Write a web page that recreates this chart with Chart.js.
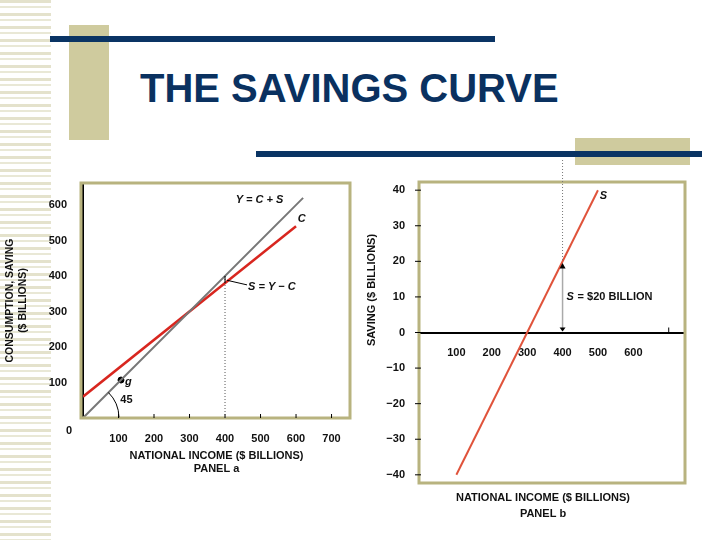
<!DOCTYPE html>
<html><head><meta charset="utf-8">
<script src="https://cdn.jsdelivr.net/npm/chart.js@4/dist/chart.umd.min.js"></script>
<style>
body{margin:0;width:720px;height:540px;position:relative;background:#fff;overflow:hidden;font-family:"Liberation Sans",Arial,sans-serif}
.abs{position:absolute}
#stripes{left:0;top:0;width:51px;height:540px;background:repeating-linear-gradient(180deg,#e4e2cc 0 3px,#fff 3px 6px,#e9e8d6 6px 8px,#fff 8px 13px)}
</style></head><body>
<div id="stripes" class="abs"></div>
<div class="abs" style="left:69px;top:25px;width:40px;height:115px;background:#cfcb9e"></div>
<div class="abs" style="left:50px;top:36px;width:445px;height:6px;background:#0a3464"></div>
<div class="abs" style="left:140px;top:66px;font-size:40px;font-weight:bold;color:#0a3160">THE SAVINGS CURVE</div>
<div class="abs" style="left:575px;top:138px;width:115px;height:27px;background:#cfcb9e"></div>
<div class="abs" style="left:256px;top:151px;width:446px;height:6px;background:#0a3464"></div>
<canvas id="ca" class="abs" width="370" height="320" style="left:0;top:160px"></canvas>
<canvas id="cb" class="abs" width="360" height="370" style="left:360px;top:160px"></canvas>
<script>
const incomeA = [0, 620];
const yLine = [0, 620];
const incomeC = [0, 600];
const consumption = [60, 540];
const incomeS = [100, 500];
const saving = [-40, 40];
const ticksA = [100,200,300,400,500,600,700];
const ticksB = [100,200,300,400,500,600];
const F = '"Liberation Sans",Arial,sans-serif';
const BOX = '#b8b37f';

function boxPlugin(){return {id:'box',afterDraw(c){const a=c.chartArea,x=c.ctx;x.save();x.strokeStyle=BOX;x.lineWidth=3;x.strokeRect(a.left-2,a.top,a.right-a.left+2,a.bottom-a.top);x.restore();}};}

const fixW=(w)=>s=>{s.width=w;};
const fixH=(h)=>s=>{s.height=h;};

new Chart(document.getElementById('ca'),{
 type:'scatter',
 data:{datasets:[
  {data:incomeA.map((v,i)=>({x:v,y:yLine[i]})),showLine:true,borderColor:'#777',borderWidth:2,pointRadius:0},
  {data:incomeC.map((v,i)=>({x:v,y:consumption[i]})),showLine:true,borderColor:'#d8261f',borderWidth:2.5,pointRadius:0},
  {data:[{x:107,y:107}],pointRadius:3,pointBackgroundColor:'#000',borderColor:'#000'}
 ]},
 options:{responsive:false,animation:false,devicePixelRatio:1,
  layout:{padding:{top:23,right:20,left:0,bottom:0}},
  plugins:{legend:{display:false},tooltip:{enabled:false}},
  scales:{
   x:{type:'linear',min:0,max:752,afterFit:fixH(62),afterBuildTicks:s=>{s.ticks=ticksA.map(v=>({value:v}));},
      grid:{display:false},border:{color:'#000',width:2},
      ticks:{color:'#111',font:{family:F,size:11,weight:'bold'},padding:6},
      title:{display:true,text:['NATIONAL INCOME ($ BILLIONS)','PANEL a'],color:'#111',font:{family:F,size:11,weight:'bold'},padding:{top:0}}},
   y:{type:'linear',min:0,max:662,afterFit:fixW(83),afterBuildTicks:s=>{s.ticks=[100,200,300,400,500,600].map(v=>({value:v}));},
      grid:{display:false},border:{color:'#000',width:2},
      ticks:{color:'#111',font:{family:F,size:11,weight:'bold'},padding:8},
      title:{display:true,text:['CONSUMPTION, SAVING','($ BILLIONS)'],color:'#111',font:{family:F,size:10.5,weight:'bold'},padding:{bottom:0}}}
  }},
 plugins:[boxPlugin(),{id:'annA',afterDraw(c){const x=c.ctx,sx=c.scales.x,sy=c.scales.y;x.save();
   x.fillStyle='#111';x.font='bold 11px '+F;x.textAlign='center';x.textBaseline='middle';
   x.fillText('0',sx.left-14,sy.bottom+13);
   x.strokeStyle='#000';x.lineWidth=1;
   ticksA.forEach(v=>{const p=sx.getPixelForValue(v);x.beginPath();x.moveTo(p,sy.bottom);x.lineTo(p,sy.bottom-4);x.stroke();});
   x.setLineDash([1,2]);x.strokeStyle='#555';x.beginPath();x.moveTo(sx.getPixelForValue(400),sy.bottom);x.lineTo(sx.getPixelForValue(400),sy.getPixelForValue(400));x.stroke();x.setLineDash([]);
   const p4=sx.getPixelForValue(400);x.strokeStyle='#000';x.beginPath();x.moveTo(p4,sy.getPixelForValue(400));x.lineTo(p4,sy.getPixelForValue(380));x.stroke();
   x.beginPath();x.moveTo(p4+2,sy.getPixelForValue(388));x.lineTo(p4+22,sy.getPixelForValue(375));x.stroke();
   x.font='italic bold 11px '+F;x.textAlign='left';
   x.fillText('S = Y − C',sx.getPixelForValue(465),sy.getPixelForValue(368));
   x.fillText('Y = C + S',sx.getPixelForValue(430),sy.getPixelForValue(615));
   x.fillText('C',sx.getPixelForValue(605),sy.getPixelForValue(560));
   x.fillText('g',sx.getPixelForValue(118),sy.getPixelForValue(102));
   x.font='bold 11px '+F;x.fillText('45',sx.getPixelForValue(105),sy.getPixelForValue(52));
   x.beginPath();x.arc(sx.getPixelForValue(0),sy.bottom,36,-Math.PI/4,-0.02);x.stroke();
   x.restore();}}]
});

new Chart(document.getElementById('cb'),{
 type:'scatter',
 data:{datasets:[
  {data:incomeS.map((v,i)=>({x:v,y:saving[i]})),showLine:true,borderColor:'#e0533b',borderWidth:2,pointRadius:0}
 ]},
 options:{responsive:false,animation:false,devicePixelRatio:1,
  layout:{padding:{top:22,right:35,left:0,bottom:47}},
  plugins:{legend:{display:false},tooltip:{enabled:false}},
  scales:{
   x:{type:'linear',min:0,max:746,position:{y:0},afterFit:fixH(0),afterBuildTicks:s=>{s.ticks=ticksB.map(v=>({value:v}));},
      grid:{display:false},border:{color:'#000',width:2},
      ticks:{color:'#111',font:{family:F,size:11,weight:'bold'},padding:6}},
   y:{type:'linear',min:-42.3,max:42.3,afterFit:fixW(61),afterBuildTicks:s=>{s.ticks=[-40,-30,-20,-10,0,10,20,30,40].map(v=>({value:v}));},
      grid:{display:false},border:{display:false},
      ticks:{color:'#111',font:{family:F,size:11,weight:'bold'},padding:8,callback:v=>v<0?'−'+Math.abs(v):v}}
  }},
 plugins:[boxPlugin(),{id:'annB',afterDraw(c){const x=c.ctx,sx=c.scales.x,sy=c.scales.y;x.save();
   x.fillStyle='#111';x.strokeStyle='#000';x.lineWidth=1;
   [-40,-30,-20,-10,0,10,20,30,40].forEach(v=>{const p=sy.getPixelForValue(v);x.beginPath();x.moveTo(sx.left-6,p);x.lineTo(sx.left,p);x.stroke();});
   const y0=sy.getPixelForValue(0);
   x.beginPath();x.moveTo(sx.getPixelForValue(700),y0);x.lineTo(sx.getPixelForValue(700),y0-5);x.stroke();
   const p4=sx.getPixelForValue(400);
   x.setLineDash([1,2]);x.strokeStyle='#777';x.beginPath();x.moveTo(p4,0);x.lineTo(p4,sy.getPixelForValue(20));x.stroke();x.setLineDash([]);
   x.strokeStyle='#aaa';x.lineWidth=1.5;x.beginPath();x.moveTo(p4,sy.getPixelForValue(19));x.lineTo(p4,y0-2);x.stroke();
   x.fillStyle='#000';
   x.beginPath();x.moveTo(p4,sy.getPixelForValue(19.5));x.lineTo(p4-3,sy.getPixelForValue(18));x.lineTo(p4+3,sy.getPixelForValue(18));x.fill();
   x.beginPath();x.moveTo(p4,y0-1);x.lineTo(p4-3,y0-5);x.lineTo(p4+3,y0-5);x.fill();
   x.fillStyle='#111';x.textBaseline='middle';x.textAlign='left';
   x.font='italic bold 11px '+F;x.fillText('S',p4+4,sy.getPixelForValue(10));
   x.fillText('S',sx.getPixelForValue(505),sy.getPixelForValue(38.5));
   x.font='bold 11px '+F;x.fillText(' = $20 BILLION',p4+12,sy.getPixelForValue(10));
   x.textAlign='center';
   const cx=(sx.left+sx.right)/2-10;
   x.fillText('NATIONAL INCOME ($ BILLIONS)',cx,sy.bottom+15);
   x.fillText('PANEL b',cx,sy.bottom+31);
   x.translate(12,130);x.rotate(-Math.PI/2);x.fillText('SAVING ($ BILLIONS)',0,0);
   x.restore();}}]
});
</script></body></html>
